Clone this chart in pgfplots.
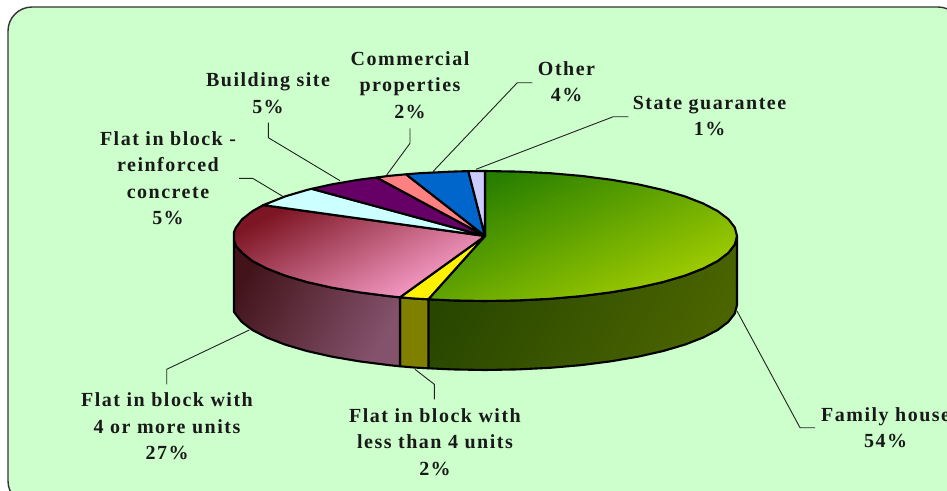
\documentclass[border=0pt]{standalone}
\usepackage{pgfplots}
\usepackage{fontspec}
\pgfplotsset{compat=1.18}
\newfontfamily\lab[LetterSpace=7.5]{Liberation Serif Bold}
\definecolor{bgc}{HTML}{CCFFCC}
\definecolor{lead}{HTML}{222222}
\tikzset{lbl/.style={font={\lab\fontsize{20}{26.5}\selectfont},align=center,anchor=center,text=black!90,inner sep=0pt},
  ld/.style={draw=lead,line width=0.9pt},
  sl/.style={draw=black,line width=2.1pt,line join=round}}
\begin{document}
\begin{tikzpicture}
\path[use as bounding box] (0,0) rectangle (947pt,490pt);
\clip (0,0) rectangle (947pt,490pt);
\begin{axis}[at={(0,0)},anchor=south west,hide axis,scale only axis,width=947pt,height=490pt,
  xmin=0,xmax=947,ymin=0,ymax=490,y dir=reverse,clip=false]
\draw[fill=bgc,draw=black!80,line width=1.4pt,rounded corners=24pt] (axis cs:8,7) rectangle (axis cs:962,505);
% leaders
\addplot[ld] coordinates {(737,311) (800,427.7) (815,427.7)};
\addplot[ld] coordinates {(415,369.3) (434.3,384.3) (434.3,399.3)};
\addplot[ld] coordinates {(249.3,330) (166.7,369.3) (166.7,384.3)};
\addplot[ld] coordinates {(239,178.3) (252.7,178.3) (283.3,196.7)};
\addplot[ld] coordinates {(268.3,122.7) (268.3,137.7) (340,180.7)};
\addplot[ld] coordinates {(410,128.3) (410,143.3) (386.7,175)};
\addplot[ld] coordinates {(433,171.5) (517.3,82.7) (532.3,82.7)};
\addplot[ld] coordinates {(476,169.3) (613.3,116.7) (628.3,116.7)};
% sides
\addplot[sl,top color={rgb,255:red,40;green,70;blue,0},bottom color={rgb,255:red,74;green,100;blue,0},shading angle=60]
 coordinates {(737,236) (734.8,244.5) (728.4,252.8) (717.8,260.9) (703.2,268.5) (684.9,275.6) (663.2,282) (638.4,287.6) (611,292.3) (581.4,296.1) (550.2,298.8) (517.9,300.4) (485,301) (452.1,300.4) (428.3,299.3)
 (428.3,368.3) (452.1,369.4) (485,370) (517.9,369.4) (550.2,367.8) (581.4,365.1) (611,361.3) (638.4,356.6) (663.2,351) (684.9,344.6) (703.2,337.5) (717.8,329.9) (728.4,321.8) (734.8,313.5) (737,305)} -- cycle;
\addplot[sl,fill={rgb,255:red,128;green,128;blue,0}]
 coordinates {(400,297.3) (414,298.5) (428.3,299.3) (428.3,368.3) (414,367.5) (400,366.3)} -- cycle;
\addplot[sl,top color={rgb,255:red,66;green,20;blue,26},bottom color={rgb,255:red,132;green,82;blue,108},shading angle=60]
 coordinates {(234,240) (236,246) (242.2,252.8) (252.2,260.9) (266.8,268.5) (285.1,275.6) (306.8,282) (331.6,287.6) (359,292.3) (388.6,296.1) (400,297.3)
 (400,366.3) (388.6,365.1) (359,361.3) (331.6,356.6) (306.8,351) (285.1,344.6) (266.8,337.5) (252.2,329.9) (241.6,321.8) (234,312)} -- cycle;
% top faces
\addplot[sl,top color={rgb,255:red,38;green,125;blue,0},bottom color={rgb,255:red,165;green,208;blue,0},shading angle=25]
 coordinates {(485,236) (485,171) (517.9,171.6) (550.2,173.2) (581.4,175.9) (611,179.7) (638.4,184.4) (663.2,190) (684.9,196.4) (703.2,203.5) (717.8,211.1) (728.4,219.2) (734.8,227.5) (737,236)
 (734.8,244.5) (728.4,252.8) (717.8,260.9) (703.2,268.5) (684.9,275.6) (663.2,282) (638.4,287.6) (611,292.3) (581.4,296.1) (550.2,298.8) (517.9,300.4) (485,301) (452.1,300.4) (428.3,299.3)} -- cycle;
\addplot[sl,fill=yellow] coordinates {(485,236) (428.3,299.3) (414,298.5) (400,297.3)} -- cycle;
\addplot[sl,top color={rgb,255:red,125;green,22;blue,36},bottom color={rgb,255:red,255;green,165;blue,210},shading angle=28]
 coordinates {(485,236) (400,297.3) (388.6,296.1) (359,292.3) (331.6,287.6) (306.8,282) (285.1,275.6) (266.8,268.5) (252.2,260.9) (242.2,252.8) (236,246) (234,240) (234,232) (236,227.5) (242.2,219.2) (252.5,211.1) (263.3,205.1)} -- cycle;
\addplot[sl,fill={rgb,255:red,204;green,255;blue,255}] coordinates {(485,236) (263.3,205.1) (285.1,196.4) (306.8,190) (311.7,188.8)} -- cycle;
\addplot[sl,fill={rgb,255:red,102;green,0;blue,102}] coordinates {(485,236) (311.7,188.8) (331.6,184.4) (359,179.7) (376.7,177.5)} -- cycle;
\addplot[sl,fill={rgb,255:red,255;green,128;blue,128}] coordinates {(485,236) (376.7,177.5) (388.6,175.9) (406,174.3)} -- cycle;
\addplot[sl,fill={rgb,255:red,0;green,102;blue,204}] coordinates {(485,236) (406,174.3) (419.8,173.2) (452.1,171.6) (468.3,171.1)} -- cycle;
\addplot[sl,fill={rgb,255:red,204;green,204;blue,255}] coordinates {(485,236) (468.3,171.1) (485,171)} -- cycle;
% labels
\node[lbl] at (axis cs:410,85) {Commercial\\properties\\2\%};
\node[lbl] at (axis cs:566.5,81.5) {Other\\4\%};
\node[lbl] at (axis cs:709.5,116) {State guarantee\\1\%};
\node[lbl] at (axis cs:268,93) {Building site\\5\%};
\node[lbl] at (axis cs:168,178) {Flat in block -\\reinforced\\concrete\\5\%};
\node[lbl] at (axis cs:167,426.5) {Flat in block with\\4 or more units\\27\%};
\node[lbl] at (axis cs:435,442) {Flat in block with\\less than 4 units\\2\%};
\node[lbl] at (axis cs:885.6,427.5) {Family house\\54\%};
\end{axis}
\end{tikzpicture}
\end{document}
